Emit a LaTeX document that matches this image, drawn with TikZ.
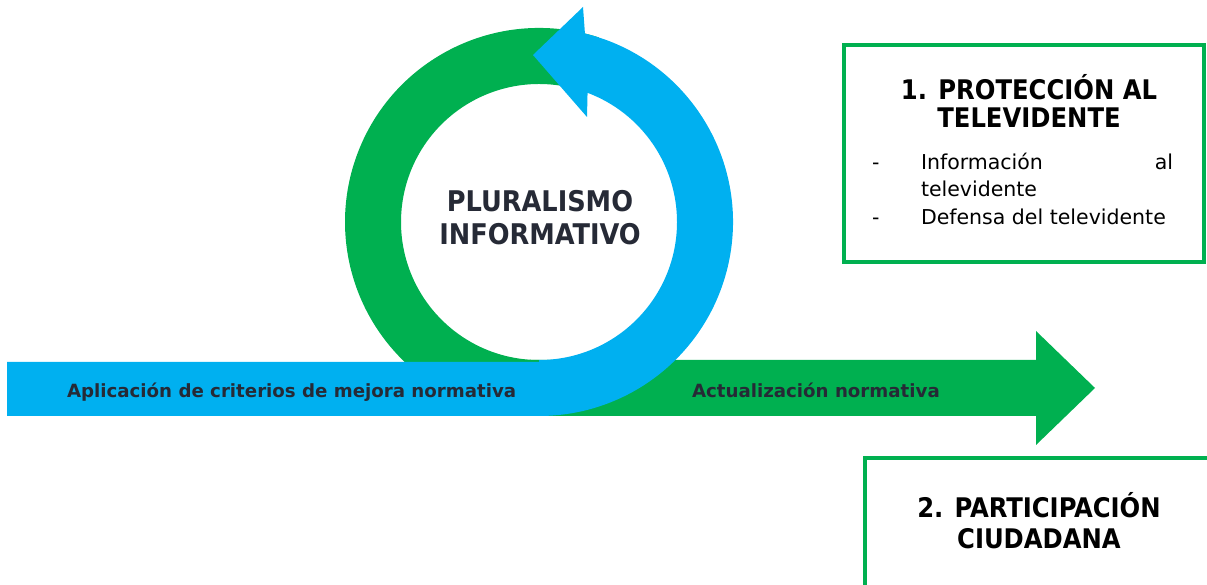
\documentclass[tikz,border=0pt]{standalone}
\usepackage{fontspec}
\setmainfont{DejaVu Sans}
\IfFontExistsTF{DejaVu Sans Condensed}{\newfontfamily\tah{DejaVu Sans Condensed}}{\newfontfamily\tah[FakeStretch=0.9]{DejaVu Sans}}
\newfontfamily\verd{DejaVu Sans}
\definecolor{grn}{HTML}{00B050}
\definecolor{blu}{HTML}{00B0F0}
\definecolor{ink}{HTML}{262A36}
\tikzset{
  txt/.style={inner sep=0pt, outer sep=0pt},
  bigtitle/.style={txt, text=ink, font=\tah\bfseries\fontsize{28.5}{30}\selectfont},
  boxtitle/.style={txt, text=black, font=\tah\bfseries\fontsize{27}{29}\selectfont},
  barlabel/.style={txt, text=ink, font=\verd\bfseries\fontsize{18.2}{20}\selectfont},
  bodytext/.style={txt, text=black, font=\verd\fontsize{20.5}{22}\selectfont},
  greenbox/.style={draw=grn, line width=4pt}
}
\begin{document}
\begin{tikzpicture}[x=1pt,y=1pt]
\useasboundingbox (0,0) rectangle (1207,585);
\clip (0,0) rectangle (1207,585);
\coordinate (c) at (539,363);
% green ring (behind)
\fill[grn] ([shift={(c)}]72:194) arc[start angle=72,end angle=270,radius=194]
  -- ++(0,56) arc[start angle=270,end angle=72,radius=138] -- cycle;
% green bar with arrowhead
\fill[grn] (530,169) -- (530,225) -- (1036,225) -- (1036,254) -- (1095,197)
  -- (1036,140) -- (1036,169) -- cycle;
% blue bar, blue arc and arrowhead
\fill[blu] (7,223) -- (539,223) -- (539,225) arc[start angle=-90,end angle=69.4,radius=138]
  -- (587,468) -- (533,530) -- (583,578) -- ([shift={(c)}]76.3:194)
  arc[start angle=76.3,end angle=-90,radius=194] -- (7,169) -- cycle;
% centre text
\node[bigtitle, anchor=base] (plur) at (540,373) {PLURALISMO};
\node[bigtitle, anchor=base] (info) at (540,340) {INFORMATIVO};
% bar labels
\node[barlabel, anchor=base west] (apl) at (67,187) {Aplicación de criterios de mejora normativa};
\node[barlabel, anchor=base west] (act) at (692,187) {Actualización normativa};
% box 1
\draw[greenbox] (844,540) rectangle (1204,323);
\node[boxtitle, anchor=base] (t1a) at (1029,485) {1. PROTECCIÓN AL};
\node[boxtitle, anchor=base] (t1b) at (1029,457) {TELEVIDENTE};
\node[bodytext, anchor=base west] (d1) at (872,415) {-};
\node[bodytext, anchor=base west] (i1) at (921,415) {Información};
\node[bodytext, anchor=base east] (i2) at (1173,415) {al};
\node[bodytext, anchor=base west] (i3) at (921,388) {televidente};
\node[bodytext, anchor=base west] (d2) at (872,360) {-};
\node[bodytext, anchor=base west] (i4) at (921,360) {Defensa del televidente};
% box 2
\draw[greenbox] (865,127) rectangle (1230,-3);
\node[boxtitle, anchor=base] (t2a) at (1039,67) {2. PARTICIPACIÓN};
\node[boxtitle, anchor=base] (t2b) at (1039,36) {CIUDADANA};
\end{tikzpicture}
\end{document}
